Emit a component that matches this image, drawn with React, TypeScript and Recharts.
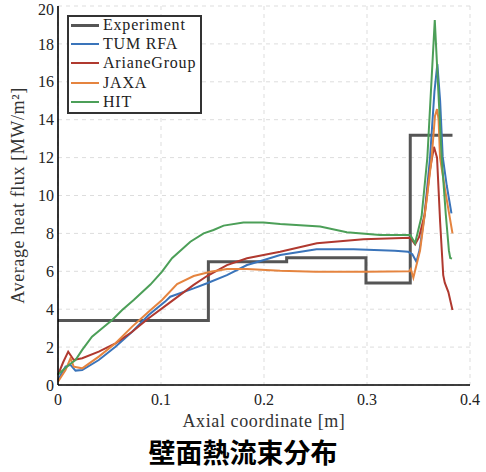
import { LineChart, Line, XAxis, YAxis, CartesianGrid } from "recharts";

// [axial coordinate (m), heat flux (MW/m2)]
const experiment: [number, number][] = [
  [0, 3.4], [0.146, 6.5], [0.222, 6.72], [0.299, 5.38], [0.342, 13.18], [0.383, 13.18],
];

const tumRfa: [number, number][] = [
  [0, 0.26], [0.0073, 0.97], [0.0121, 1.06], [0.017, 0.76], [0.0235, 0.79], [0.0396, 1.32],
  [0.0558, 2.02], [0.072, 2.81], [0.088, 3.69], [0.104, 4.4], [0.109, 4.66], [0.1317, 5.1],
  [0.1447, 5.37], [0.164, 5.8], [0.1835, 6.33], [0.2, 6.6], [0.2157, 6.86], [0.251, 7.16],
  [0.287, 7.16], [0.327, 7.09], [0.34, 7.03], [0.344, 6.9], [0.348, 6.5], [0.351, 7.12],
  [0.3557, 8.88], [0.3612, 12.0], [0.3655, 15.5], [0.3683, 16.94], [0.371, 15.0],
  [0.3735, 12.05], [0.3775, 10.5], [0.382, 9.06],
];

const arianeGroup: [number, number][] = [
  [0, 0.53], [0.005, 1.2], [0.0099, 1.76], [0.0153, 1.32], [0.0235, 1.41], [0.0396, 1.76],
  [0.0558, 2.2], [0.072, 2.81], [0.088, 3.52], [0.1075, 4.31], [0.1317, 5.28], [0.1447, 5.75],
  [0.164, 6.33], [0.1835, 6.69], [0.2157, 7.03], [0.2513, 7.48], [0.2966, 7.69], [0.342, 7.77],
  [0.3467, 7.42], [0.3505, 7.8], [0.356, 9.0], [0.361, 11.3], [0.365, 12.57], [0.368, 12.0],
  [0.371, 8.6], [0.374, 5.8], [0.3755, 5.4], [0.379, 4.9], [0.383, 3.96],
];

const jaxa: [number, number][] = [
  [0, 0.17], [0.0073, 0.79], [0.0121, 1.41], [0.0153, 0.97], [0.0235, 0.88], [0.0396, 1.5],
  [0.0558, 2.2], [0.072, 3.08], [0.088, 3.87], [0.101, 4.49], [0.1156, 5.33], [0.1317, 5.75],
  [0.148, 5.98], [0.164, 6.12], [0.1835, 6.12], [0.2157, 6.03], [0.25, 5.98], [0.3, 5.98],
  [0.341, 6.0], [0.3425, 6.12], [0.345, 5.66], [0.3515, 7.1], [0.358, 9.8], [0.3628, 12.0],
  [0.366, 14.2], [0.368, 14.56], [0.3695, 14.0], [0.3709, 12.0], [0.3758, 10.3], [0.383, 8.0],
];

const hit: [number, number][] = [
  [0, 0.55], [0.0105, 1.06], [0.017, 1.32], [0.0235, 1.85], [0.033, 2.55], [0.0429, 2.99],
  [0.0526, 3.43], [0.0623, 3.96], [0.0735, 4.49], [0.0897, 5.3], [0.101, 5.98], [0.1107, 6.69],
  [0.1285, 7.56], [0.1414, 8.0], [0.151, 8.18], [0.1608, 8.41], [0.18, 8.58], [0.1996, 8.58],
  [0.2157, 8.5], [0.2545, 8.36], [0.2804, 8.06], [0.3127, 7.92], [0.342, 7.92], [0.3467, 7.48],
  [0.353, 8.9], [0.3586, 12.0], [0.3658, 19.26], [0.3725, 12.0], [0.3765, 9.0], [0.3795, 7.1],
  [0.3808, 6.7], [0.3825, 6.67],
];

const xTicks = [0, 0.1, 0.2, 0.3, 0.4];
const yTicks = [0, 2, 4, 6, 8, 10, 12, 14, 16, 18, 20];

const series = [
  { name: "Experiment", points: experiment, color: "#555555", width: 3, type: "stepAfter" },
  { name: "TUM RFA", points: tumRfa, color: "#3a74ba", width: 2, type: "linear" },
  { name: "ArianeGroup", points: arianeGroup, color: "#b0392f", width: 2, type: "linear" },
  { name: "JAXA", points: jaxa, color: "#e5843f", width: 2, type: "linear" },
  { name: "HIT", points: hit, color: "#4c9f58", width: 2, type: "linear" },
];

const serif = "Liberation Serif, serif";

export default function App() {
  return (
    <div style={{ position: "absolute", left: 0, top: 0, width: 486, height: 472, background: "#fff" }}>
      <LineChart width={486} height={430} margin={{ top: 6, right: 16, left: 0, bottom: 0 }}>
        <CartesianGrid strokeDasharray="4 4" stroke="#dddddd" />
        <XAxis
          type="number"
          dataKey="x"
          domain={[0, 0.4]}
          ticks={xTicks}
          height={45}
          axisLine={{ stroke: "#000", strokeWidth: 1.6 }}
          tickLine={false}
          tickMargin={3}
          tick={{ fontSize: 16, fontFamily: serif, fill: "#222" }}
          label={{ value: "Axial coordinate [m]", position: "insideBottom", offset: 3, fontSize: 18, letterSpacing: 0.6, fontFamily: serif, fill: "#333" }}
        />
        <YAxis
          type="number"
          domain={[0, 20]}
          ticks={yTicks}
          width={58}
          axisLine={{ stroke: "#000", strokeWidth: 1.6 }}
          tickLine={false}
          tickSize={4}
          tickMargin={0}
          tick={{ fontSize: 16, fontFamily: serif, fill: "#222" }}
          label={{ value: "Average heat flux [MW/m²]", angle: -90, position: "center", dx: -11, fontSize: 18, letterSpacing: 0.6, fontFamily: serif, fill: "#333" }}
        />
        {series.map((s) => (
          <Line
            key={s.name}
            data={s.points.map(([x, y]) => ({ x, y }))}
            dataKey="y"
            name={s.name}
            type={s.type as any}
            stroke={s.color}
            strokeWidth={s.width}
            dot={false}
            isAnimationActive={false}
          />
        ))}
      </LineChart>

      <div
        style={{
          position: "absolute",
          left: 67,
          top: 15,
          width: 135,
          height: 99,
          boxSizing: "border-box",
          border: "2px solid #333",
          background: "#fff",
          fontFamily: serif,
          fontSize: 16,
          letterSpacing: 0.8,
          color: "#222",
        }}
      >
        {series.map((s, i) => (
          <div
            key={s.name}
            style={{ position: "absolute", left: 2, top: 8 + i * 19.2 - 9, height: 18, display: "flex", alignItems: "center", whiteSpace: "nowrap" }}
          >
            <div style={{ width: 28, height: s.width, background: s.color, marginRight: 4 }} />
            <span>{s.name}</span>
          </div>
        ))}
      </div>

      <div
        style={{
          position: "absolute",
          left: 2,
          top: 436,
          width: 482,
          textAlign: "center",
          fontFamily: "'Noto Sans CJK JP', sans-serif",
          fontWeight: 700,
          fontSize: 27,
          lineHeight: "32px",
          color: "#000",
        }}
      >
        壁面熱流束分布
      </div>
    </div>
  );
}
